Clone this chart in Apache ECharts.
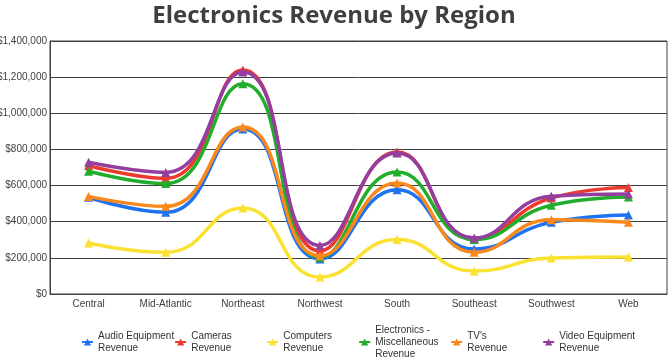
<!DOCTYPE html>
<html>
<head>
<meta charset="utf-8">
<script src="https://cdn.jsdelivr.net/npm/echarts@6/dist/echarts.min.js"></script>
<style>html,body{margin:0;padding:0;background:#fff}#c{width:668px;height:357px}</style>
</head>
<body>
<div id="c"></div>
<script>
var categories = ['Central','Mid-Atlantic','Northeast','Northwest','South','Southeast','Southwest','Web'];
var seriesNames = ['Audio Equipment Revenue','Cameras Revenue','Computers Revenue','Electronics - Miscellaneous Revenue',"TV's Revenue",'Video Equipment Revenue'];
var legendLabels = ['Audio Equipment\nRevenue','Cameras\nRevenue','Computers\nRevenue','Electronics -\nMiscellaneous\nRevenue',"TV's\nRevenue",'Video Equipment\nRevenue'];
var audioEquipment = [535000, 452000, 913000, 194000, 577000, 249000, 397000, 437000];
var cameras        = [710000, 640000, 1240000, 238000, 786000, 305000, 531000, 589000];
var computers      = [282000, 231000, 476000, 94000, 301000, 127000, 199000, 205000];
var electronicsMisc= [679000, 611000, 1164000, 203000, 675000, 301000, 491000, 537000];
var tvs            = [540000, 485000, 924000, 212000, 614000, 231000, 411000, 397000];
var videoEquipment = [729000, 673000, 1229000, 268000, 780000, 310000, 541000, 553000];
var yTicks = [0, 200000, 400000, 600000, 800000, 1000000, 1200000, 1400000];

var values = [audioEquipment, cameras, computers, electronicsMisc, tvs, videoEquipment];
var colors = ['#1f72f0', '#ec3a2e', '#fbe232', '#22ae2c', '#f9891c', '#943ea0'];
var font = "'Liberation Sans', sans-serif";

var chart = echarts.init(document.getElementById('c'), null, {renderer: 'canvas'});
var series = seriesNames.map(function (n, i) {
  return {
    name: n,
    type: 'line',
    data: values[i],
    smooth: 0.5,
    symbol: 'triangle',
    symbolSize: 9,
    showSymbol: true,
    lineStyle: {width: 3.5, color: colors[i]},
    itemStyle: {color: colors[i]},
    emphasis: {disabled: true},
    z: 2 + i
  };
});
chart.setOption({
  animation: false,
  title: {
    text: 'Electronics Revenue by Region',
    left: 'center',
    top: -1,
    textStyle: {fontFamily: 'Open Sans', fontWeight: 'bold', fontSize: 24, color: '#3f3f3f'}
  },
  grid: {left: 50, right: 1, top: 41, bottom: 63, show: true, borderColor: '#404040', borderWidth: 1, containLabel: false, outerBoundsMode: 'none'},
  xAxis: {
    type: 'category',
    data: categories,
    boundaryGap: true,
    axisLine: {lineStyle: {color: '#404040'}},
    axisTick: {show: false},
    axisLabel: {fontFamily: font, fontSize: 10, color: '#404040', margin: 5},
    splitLine: {show: false}
  },
  yAxis: {
    type: 'value',
    min: yTicks[0],
    max: yTicks[yTicks.length - 1],
    interval: yTicks[1] - yTicks[0],
    axisLine: {show: true, lineStyle: {color: '#404040'}},
    axisTick: {show: false},
    axisLabel: {
      fontFamily: font, fontSize: 10, color: '#404040', margin: 3,
      formatter: function (v) { return '$' + v.toLocaleString('en-US'); }
    },
    splitLine: {lineStyle: {color: '#404040', width: 1}}
  },
  legend: {
    data: seriesNames,
    left: 81,
    top: 324,
    padding: 0,
    itemWidth: 11,
    itemHeight: 9,
    itemGap: 0,
    formatter: function (n) { return legendLabels[seriesNames.indexOf(n)]; },
    textStyle: {fontFamily: font, fontSize: 10, color: '#333', width: 75, lineHeight: 12}
  },
  series: series
});
</script>
</body>
</html>
